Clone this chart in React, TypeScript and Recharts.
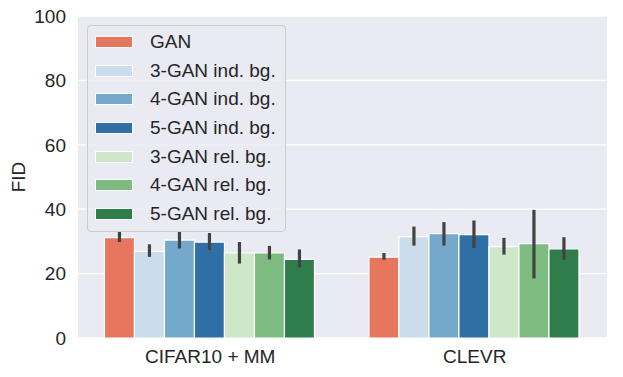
import { BarChart, Bar, XAxis, YAxis, CartesianGrid, ErrorBar } from "recharts";

const categories = ["CIFAR10 + MM", "CLEVR"];
const seriesNames = [
  "GAN",
  "3-GAN ind. bg.",
  "4-GAN ind. bg.",
  "5-GAN ind. bg.",
  "3-GAN rel. bg.",
  "4-GAN rel. bg.",
  "5-GAN rel. bg.",
];
const seriesColors = ["#e6765e", "#cbdcec", "#74a9cb", "#306fa5", "#cde7c8", "#7dbb80", "#2e7d4a"];

// mean FID per series, one value per category
const gan = [31.2, 25.1];
const gan3Ind = [26.9, 31.5];
const gan4Ind = [30.4, 32.4];
const gan5Ind = [29.8, 32.1];
const gan3Rel = [26.4, 28.4];
const gan4Rel = [26.4, 29.3];
const gan5Rel = [24.4, 27.7];

// confidence interval lower / upper bounds
const ciLow = [
  [29.8, 24.3],
  [25.2, 28.7],
  [27.8, 28.7],
  [27.3, 28.0],
  [23.1, 25.9],
  [24.4, 18.5],
  [21.9, 24.3],
];
const ciHigh = [
  [33.0, 26.4],
  [29.1, 34.6],
  [33.0, 36.0],
  [32.6, 36.5],
  [29.8, 31.1],
  [28.6, 39.8],
  [27.5, 31.3],
];

const yTicks = [0, 20, 40, 60, 80, 100];

const means = [gan, gan3Ind, gan4Ind, gan5Ind, gan3Rel, gan4Rel, gan5Rel];

const chartData = categories.map((name, ci) => {
  // eslint-disable-next-line @typescript-eslint/no-explicit-any
  const row: any = { name };
  means.forEach((vals, si) => {
    row[`s${si}`] = vals[ci];
    row[`e${si}`] = [vals[ci] - ciLow[si][ci], ciHigh[si][ci] - vals[ci]];
  });
  return row;
});

const font = "'Liberation Sans', Arial, sans-serif";
const textColor = "#262626";

function LegendBox() {
  return (
    <div
      style={{
        position: "absolute",
        left: 87,
        top: 25,
        width: 197,
        height: 203,
        paddingTop: 2,
        background: "rgba(234,234,242,0.8)",
        border: "1px solid #cccccc",
        borderRadius: 4,
        fontFamily: font,
        fontSize: 19,
        color: textColor,
        boxSizing: "content-box",
      }}
    >
      {seriesNames.map((n, i) => (
        <div key={n} style={{ height: 28.6, display: "flex", alignItems: "center" }}>
          <div
            style={{
              width: 38,
              height: 12,
              marginLeft: 7,
              marginRight: 17,
              background: seriesColors[i],
              border: "1px solid #fff",
              boxSizing: "border-box",
            }}
          />
          <span>{n}</span>
        </div>
      ))}
    </div>
  );
}

export default function App() {
  return (
    <div style={{ position: "absolute", left: 0, top: 0, width: 623, height: 377, background: "#fff" }}>
      <BarChart
        width={623}
        height={377}
        data={chartData}
        margin={{ top: 16, right: 16, left: 0, bottom: 9 }}
        barCategoryGap="10%"
        barGap={0}
      >
        <CartesianGrid stroke="#ffffff" strokeWidth={1.3} vertical={false} fill="#eaeaf2" />
        <XAxis
          dataKey="name"
          axisLine={false}
          tickLine={false}
          height={30}
          tickMargin={6}
          tick={{ fontSize: 19, fill: textColor, fontFamily: font }}
        />
        <YAxis
          domain={[0, 100]}
          ticks={yTicks}
          width={78}
          axisLine={false}
          tickLine={false}
          tickMargin={6}
          tick={{ fontSize: 19, fill: textColor, fontFamily: font }}
          label={({ viewBox }: { viewBox: { x: number; y: number; width: number; height: number } }) => {
            const cy = viewBox.y + viewBox.height / 2;
            return (
              <text
                x={25}
                y={cy}
                transform={`rotate(-90, 25, ${cy})`}
                textAnchor="middle"
                fontSize={19}
                fontFamily={font}
                fill={textColor}
              >
                FID
              </text>
            );
          }}
        />
        {seriesNames.map((n, i) => (
          <Bar key={n} dataKey={`s${i}`} name={n} fill={seriesColors[i]} stroke="#ffffff" strokeWidth={1.2} isAnimationActive={false}>
            <ErrorBar dataKey={`e${i}`} width={0} strokeWidth={3.2} stroke="#424242" direction="y" />
          </Bar>
        ))}
      </BarChart>
      <LegendBox />
    </div>
  );
}
